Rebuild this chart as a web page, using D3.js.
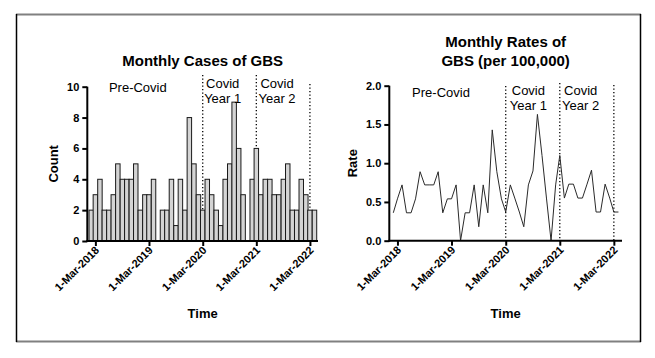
<!DOCTYPE html>
<html>
<head>
<meta charset="utf-8">
<script src="https://cdn.jsdelivr.net/npm/d3@7"></script>
<style>
  body { margin: 0; background: #fff; }
  text { font-family: "Liberation Sans", Arial, sans-serif; }
</style>
</head>
<body>
<svg id="chart" width="655" height="358"></svg>
<script>
// months (bars / points centred on the 1st of each month)
var months = [
  "2018-02","2018-03","2018-04","2018-05","2018-06","2018-07","2018-08","2018-09","2018-10","2018-11","2018-12",
  "2019-01","2019-02","2019-03","2019-04","2019-05","2019-06","2019-07","2019-08","2019-09","2019-10","2019-11","2019-12",
  "2020-01","2020-02","2020-03","2020-04","2020-05","2020-06","2020-07","2020-08","2020-09","2020-10","2020-11","2020-12",
  "2021-01","2021-02","2021-03","2021-04","2021-05","2021-06","2021-07","2021-08","2021-09","2021-10","2021-11","2021-12",
  "2022-01","2022-02","2022-03","2022-04"
];
var counts = [2,3,4,2,2,3,5,4,4,4,5, 2,3,3,4,0,2,2,4,1,4,2,8, 5,3,2,4,3,2,1,4,5,9,6,3, 0,4,6,3,4,4,3,3,4,5,2,2, 4,3,2,2];
var rates = [0.36,0.54,0.72,0.36,0.36,0.54,0.89,0.72,0.72,0.72,0.89,
             0.36,0.54,0.54,0.72,0,0.36,0.36,0.72,0.18,0.72,0.36,1.43,
             0.89,0.54,0.37,0.72,0.55,0.37,0.18,0.72,0.90,1.63,1.10,0.55,
             0,0.72,1.10,0.55,0.73,0.73,0.55,0.55,0.73,0.91,0.37,0.37,
             0.73,0.55,0.37,0.37];
var xTicks = ["2018-03-01","2019-03-01","2020-03-01","2021-03-01","2022-03-01"];
var periodLines = ["2020-03-01","2021-03-01","2022-03-01"];
var countTicks = [0,2,4,6,8,10];
var rateTicks = [0,0.5,1,1.5,2];

var parseM = d3.utcParse("%Y-%m"), parseD = d3.utcParse("%Y-%m-%d");
var dates = months.map(parseM);
var domain = [parseD("2018-01-05"), parseD("2022-04-25")];
var svg = d3.select("#chart");

// frame round the figure
svg.append("line").attr("x1",16).attr("x2",641).attr("y1",14.5).attr("y2",14.5).attr("stroke","#808080").attr("stroke-width",2);
svg.append("line").attr("x1",16).attr("x2",641).attr("y1",341.5).attr("y2",341.5).attr("stroke","#808080").attr("stroke-width",2);
svg.append("line").attr("x1",16.5).attr("x2",16.5).attr("y1",14).attr("y2",342).attr("stroke","#000").attr("stroke-width",1.5);
svg.append("line").attr("x1",640.5).attr("x2",640.5).attr("y1",14).attr("y2",342).attr("stroke","#000").attr("stroke-width",1.5);

function panel(opt){
  var x = d3.scaleUtc().domain(domain).range([opt.left, opt.right]);
  var y = d3.scaleLinear().domain(opt.yDomain).range([opt.bottom, opt.top]);
  var g = svg.append("g");

  // period dividers
  periodLines.forEach(function(d, i){
    g.append("line")
      .attr("x1", x(parseD(d))).attr("x2", x(parseD(d)))
      .attr("y1", opt.dividerTop[i]).attr("y2", opt.bottom)
      .attr("stroke","#000").attr("stroke-width",1.3)
      .attr("stroke-dasharray","1.3,2.2");
  });

  opt.draw(g, x, y);

  // y axis
  var ya = g.append("g").attr("transform","translate(" + opt.left + ",0)")
    .call(d3.axisLeft(y).tickValues(opt.yTicks).tickFormat(opt.yFormat).tickSize(5).tickPadding(3));
  ya.select(".domain").attr("stroke-width",2).attr("d","M0," + (opt.bottom + 1) + "V" + opt.top);
  ya.selectAll(".tick line").attr("stroke-width",2);
  ya.selectAll("text").attr("font-size",11).attr("font-weight","bold").attr("fill","#000")
    .style("font-family","'Liberation Sans', Arial, sans-serif");

  // x axis
  var xa = g.append("g").attr("transform","translate(0," + opt.bottom + ")")
    .call(d3.axisBottom(x).tickValues(xTicks.map(parseD)).tickFormat(d3.utcFormat("%-d-%b-%Y")).tickSize(5));
  xa.select(".domain").attr("stroke-width",2).attr("d","M" + (opt.left - 1) + ",0H" + opt.right);
  xa.selectAll(".tick line").attr("stroke-width",2);
  xa.selectAll("text").attr("font-size",11).attr("font-weight","bold").attr("fill","#000")
    .style("font-family","'Liberation Sans', Arial, sans-serif")
    .attr("text-anchor","end").attr("dy",null).attr("y",0)
    .attr("transform","translate(4,10) rotate(-45)");

  // axis titles
  g.append("text").attr("x",(opt.left + opt.right) / 2).attr("y",318)
    .attr("text-anchor","middle").attr("font-size",13).attr("font-weight","bold").text("Time");
  g.append("text").attr("transform","translate(" + opt.yLabelX + "," + ((opt.top + opt.bottom) / 2) + ") rotate(-90)")
    .attr("text-anchor","middle").attr("font-size",13).attr("font-weight","bold").text(opt.yLabel);

  // chart title
  opt.title.forEach(function(t, i){
    g.append("text").attr("x",(opt.left + opt.right) / 2).attr("y", opt.titleY + i * 19)
      .attr("text-anchor","middle").attr("font-size",15).attr("font-weight","bold").text(t);
  });

  // period labels
  opt.notes.forEach(function(n){
    n.lines.forEach(function(t, i){
      g.append("text").attr("x", x(parseD(n.at))).attr("y", n.y + i * 15)
        .attr("text-anchor","middle").attr("font-size",13).text(t);
    });
  });
}

// left: monthly counts as bars
panel({
  left: 87.3, right: 318, top: 86.7, bottom: 241,
  yDomain: [0,10], yTicks: countTicks, yFormat: d3.format("d"),
  yLabel: "Count", yLabelX: 58, dividerTop: [75, 75, 84],
  title: ["Monthly Cases of GBS"], titleY: 66,
  notes: [
    {at: "2018-12-15", lines: ["Pre-Covid"], y: 91.5},
    {at: "2020-07-15", lines: ["Covid","Year 1"], y: 88},
    {at: "2021-07-20", lines: ["Covid","Year 2"], y: 88}
  ],
  draw: function(g, x, y){
    var bw = (x(dates[dates.length - 1]) - x(dates[0])) / (dates.length - 1);
    g.selectAll("rect.bar").data(counts).enter().append("rect")
      .attr("class","bar")
      .attr("x", function(d, i){ return x(dates[i]) - bw / 2; })
      .attr("width", bw)
      .attr("y", function(d){ return y(d); })
      .attr("height", function(d){ return y(0) - y(d); })
      .attr("fill","#d4d4d4")
      .attr("stroke", function(d){ return d > 0 ? "#1a1a1a" : "none"; })
      .attr("stroke-width",1);
  }
});

// right: monthly rates as a line
panel({
  left: 389.3, right: 622, top: 85.7, bottom: 240.7,
  yDomain: [0,2], yTicks: rateTicks, yFormat: d3.format(".1f"),
  yLabel: "Rate", yLabelX: 357, dividerTop: [86, 83, 85],
  title: ["Monthly Rates of","GBS (per 100,000)"], titleY: 47,
  notes: [
    {at: "2018-12-20", lines: ["Pre-Covid"], y: 96.5},
    {at: "2020-08-01", lines: ["Covid","Year 1"], y: 95},
    {at: "2021-07-20", lines: ["Covid","Year 2"], y: 95}
  ],
  draw: function(g, x, y){
    var line = d3.line()
      .x(function(d, i){ return x(dates[i]); })
      .y(function(d){ return y(d); });
    g.append("path").datum(rates).attr("d", line)
      .attr("fill","none").attr("stroke","#2a2a2a").attr("stroke-width",1);
  }
});
</script>
</body>
</html>
